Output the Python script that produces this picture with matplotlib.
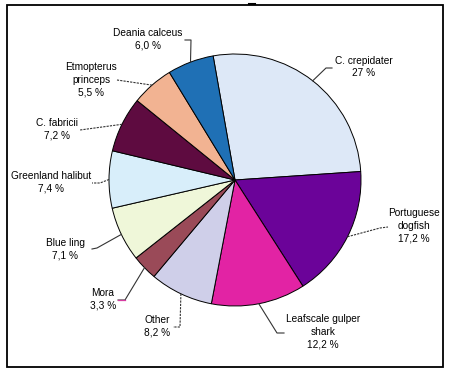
import numpy as np
import matplotlib
matplotlib.use('Agg')
import matplotlib.pyplot as plt
from matplotlib.patches import Rectangle

# data, clockwise from the top
species = ['C. crepidater', 'Portuguese\ndogfish', 'Leafscale gulper\nshark', 'Other', 'Mora',
           'Blue ling', 'Greenland halibut', 'C. fabricii', 'Etmopterus\nprinceps', 'Deania calceus']
shares = [27, 17.2, 12.2, 8.2, 3.3, 7.1, 7.4, 7.2, 5.5, 6.0]
share_text = ['27 %', '17,2 %', '12,2 %', '8,2 %', '3,3 %', '7,1 %', '7,4 %', '7,2 %', '5,5 %', '6,0 %']
colors = ['#dde8f7', '#6b0399', '#e223a4', '#cfcfe9', '#9a4a58',
          '#eff7d9', '#d8eefa', '#5e0b40', '#f2b392', '#1f70b5']

H = 373
def py(y):
    # picture rows -> data y
    return H - y

# label centres and leader bends (picture pixels)
label_xy = [(364, 67), (414, 226), (323, 332), (157, 326), (103, 299),
            (65, 249), (51, 182), (57, 129), (91, 80), (148, 39)]
bends = [[(326, 68), (332, 68)], [(380, 228), (388, 227)], [(277, 333), (284, 333)],
         [(180, 327), (173, 327)], [(125, 300), (118, 300)], [(97, 248), (92, 249)],
         [(100, 183), (92, 183)], [(80, 130)], [(117, 80)], [(191, 40), (185, 40)]]
dashed = [False, True, False, True, False, False, True, True, True, False]
line_col = ['#333333'] * 10

plt.rcParams['font.family'] = ['Liberation Sans', 'DejaVu Sans']

fig = plt.figure(figsize=(4.5, 3.73), dpi=100)
ax = fig.add_axes([0, 0, 1, 1])

cx, cy, r = 235, py(180), 126
wedges, _ = ax.pie(shares, colors=colors, startangle=100, counterclock=False,
                   center=(cx, cy), radius=r,
                   wedgeprops=dict(edgecolor='black', linewidth=0.7))

for i, w in enumerate(wedges):
    mid = np.deg2rad((w.theta1 + w.theta2) / 2)
    xs = [cx + r * np.cos(mid)] + [b[0] for b in bends[i]]
    ys = [cy + r * np.sin(mid)] + [py(b[1]) for b in bends[i]]
    ax.plot(xs, ys, color=line_col[i], lw=0.8, ls=(0, (2, 1)) if dashed[i] else '-')
    if i == 4:
        ax.plot(xs[-2:], ys[-2:], color='#d63ca0', lw=0.9)
    lx, ly = label_xy[i]
    ax.text(lx, py(ly), species[i] + '\n' + share_text[i], ha='center', va='center',
            fontsize=7.3, linespacing=1.35, color='black')

ax.add_patch(Rectangle((7, py(367)), 436, 362, fill=False, edgecolor='black', lw=1.3))
ax.plot([249, 255], [py(4), py(4)], color='black', lw=1.5)

ax.set_xlim(0, 450)
ax.set_ylim(0, H)
ax.set_aspect('equal')
ax.axis('off')

plt.savefig('out.png', dpi=100)
